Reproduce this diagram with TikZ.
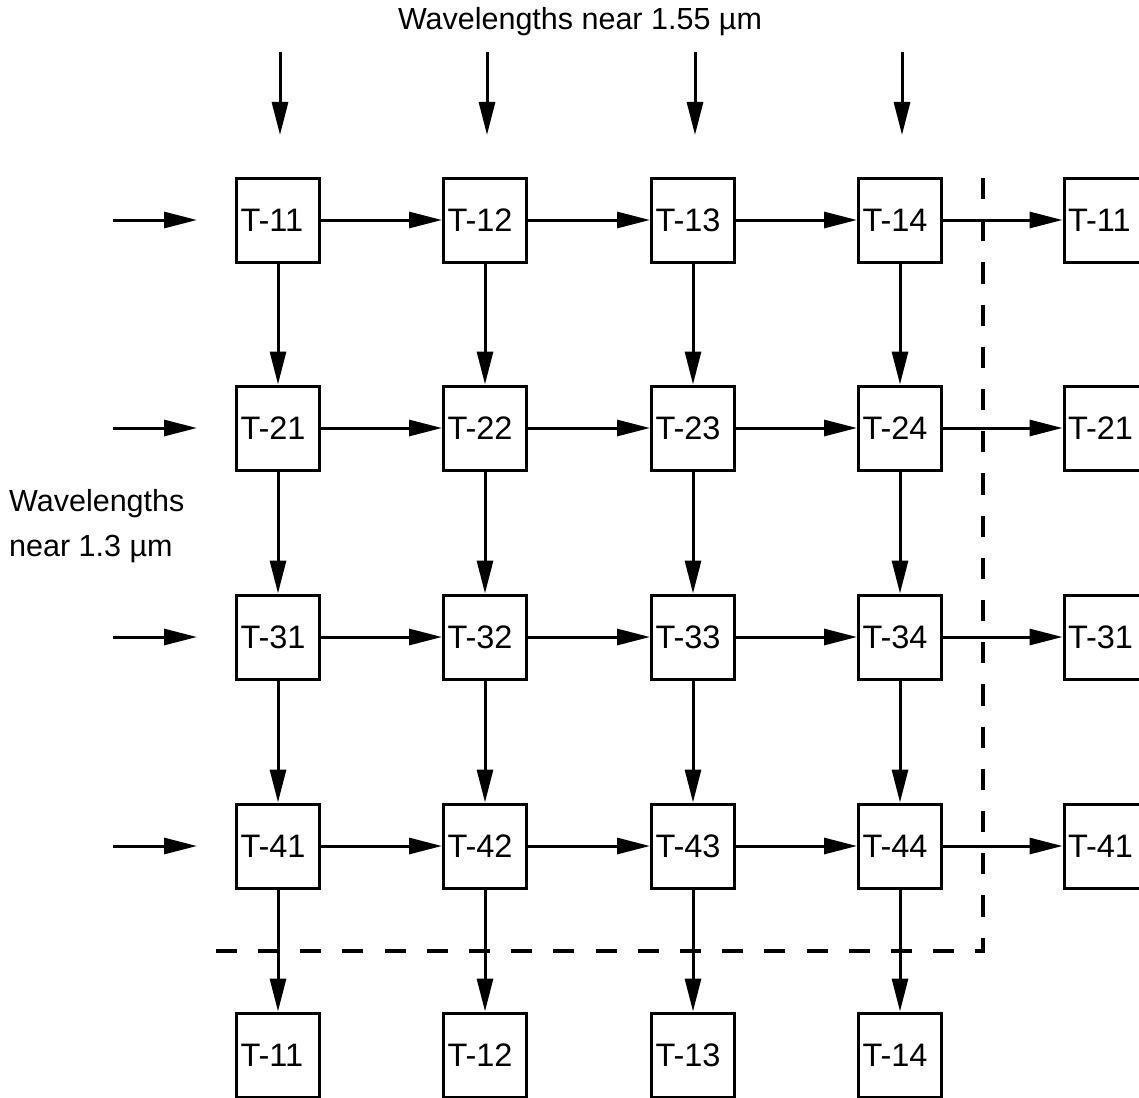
\documentclass[tikz,border=0pt]{standalone}
\usepackage{fontspec}
\setmainfont{Liberation Sans}
\usetikzlibrary{arrows.meta}
\begin{document}
\begin{tikzpicture}[x=1pt,y=-1pt,
  tbox/.style={draw,line width=3pt,minimum width=83pt,minimum height=84pt,
    text width=75pt,inner xsep=4pt,inner ysep=0pt,align=left,
    font=\fontsize{32.5}{36}\selectfont},
  conn/.style={line width=3pt,-{Triangle[length=33pt,width=16pt]}},
  sep/.style={line width=4.5pt,dash pattern=on 21.1pt off 21.1pt},
  lbl/.style={font=\fontsize{30.5}{45}\selectfont,inner sep=0pt}]
\useasboundingbox (0,0) rectangle (1139,1097);
% labels
\node[lbl] (toplabel) at (580,22) {Wavelengths near 1.55 µm};
\node[lbl,anchor=west,align=left] (leftlabel) at (9,526) {Wavelengths\\near 1.3 µm};
% grid boxes
\foreach \r/\y in {1/220,2/428,3/637,4/846}{
  \foreach \c/\x in {1/278,2/485,3/693,4/900}{
    \node[tbox] (t\r\c) at (\x,\y) {T-\r\c};
  }
  \node[tbox] (r\r) at (1105.5,\y) {T-\r1};
  \coordinate (ls\r) at (113,\y);
  \coordinate (le\r) at (197,\y);
  \draw[conn] (ls\r) -- (le\r);
}
\foreach \c/\x in {1/278,2/485,3/693,4/900}{
  \node[tbox] (b\c) at (\x,1055) {T-1\c};
  \coordinate (ts\c) at (\x+2,52);
  \coordinate (te\c) at (\x+2,135);
  \draw[conn] (ts\c) -- (te\c);
}
% horizontal connectors
\foreach \r in {1,2,3,4}{
  \draw[conn] (t\r1) -- (t\r2);
  \draw[conn] (t\r2) -- (t\r3);
  \draw[conn] (t\r3) -- (t\r4);
  \draw[conn] (t\r4) -- (r\r);
}
% vertical connectors
\foreach \c in {1,2,3,4}{
  \draw[conn] (t1\c) -- (t2\c);
  \draw[conn] (t2\c) -- (t3\c);
  \draw[conn] (t3\c) -- (t4\c);
  \draw[conn] (t4\c) -- (b\c);
}
% dashed boundary
\coordinate (dtop) at (983,178);
\coordinate (dcorner) at (983,951);
\coordinate (dleft) at (215,951);
\draw[sep] (dtop) -- (dcorner) -- (dleft);
\end{tikzpicture}
\end{document}
